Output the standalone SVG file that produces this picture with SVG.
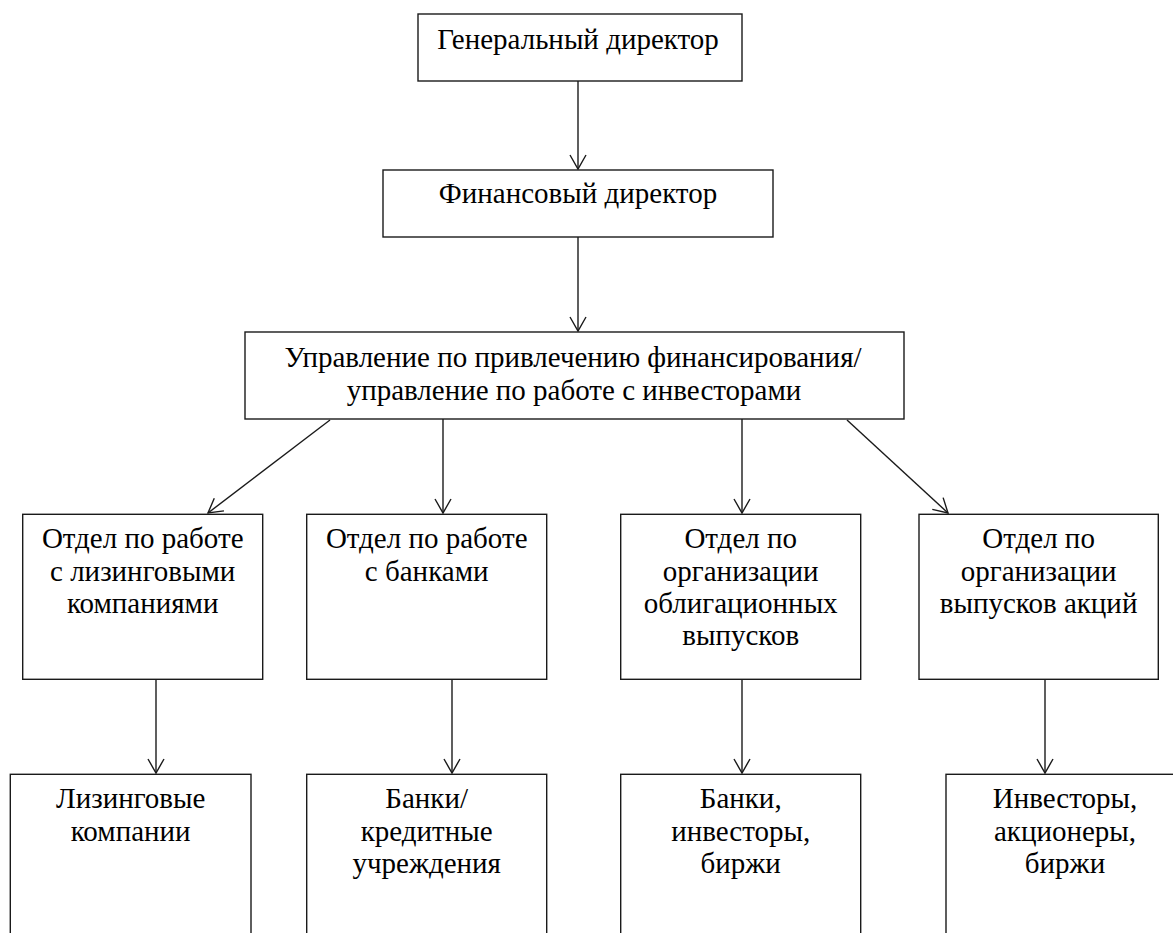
<svg xmlns="http://www.w3.org/2000/svg" width="1173" height="933" viewBox="0 0 1173 933">
<style>
.box{fill:#fff;stroke:#1a1a1a;stroke-width:1.4}
.lbl{font-family:"Liberation Serif","Times New Roman",serif;font-size:29px;fill:#000;text-anchor:middle}
.con{fill:none;stroke:#1a1a1a;stroke-width:1.4;marker-end:url(#arr)}
</style>
<defs>
<marker id="arr" markerUnits="userSpaceOnUse" markerWidth="20" markerHeight="20" viewBox="0 0 20 20" refX="15" refY="9" orient="auto" overflow="visible">
<path d="M1,1 L15,9 L1,17" fill="none" stroke="#1a1a1a" stroke-width="1.4"/>
</marker>
</defs>
<rect width="1173" height="933" fill="#fff"/>
<g id="connectors">
<line class="con" x1="578" y1="81" x2="578" y2="169"/>
<line class="con" x1="578" y1="237" x2="578" y2="331"/>
<line class="con" x1="330" y1="420" x2="208" y2="513"/>
<line class="con" x1="443" y1="419" x2="443" y2="513"/>
<line class="con" x1="742" y1="419" x2="742" y2="513"/>
<line class="con" x1="847" y1="420" x2="948" y2="513"/>
<line class="con" x1="156" y1="679" x2="156" y2="773"/>
<line class="con" x1="452" y1="679" x2="452" y2="773"/>
<line class="con" x1="742" y1="679" x2="742" y2="773"/>
<line class="con" x1="1045" y1="679" x2="1045" y2="773"/>
</g>
<g id="n-gen">
<rect class="box" x="418" y="14" width="324" height="67"/>
<text class="lbl" x="578" y="49">Генеральный директор</text>
</g>
<g id="n-fin">
<rect class="box" x="383" y="170" width="390" height="67"/>
<text class="lbl" x="578" y="203">Финансовый директор</text>
</g>
<g id="n-upr">
<rect class="box" x="245" y="332" width="659" height="87"/>
<text class="lbl" x="573" y="367">Управление по привлечению финансирования/</text>
<text class="lbl" x="574" y="400">управление по работе с инвесторами</text>
</g>
<g id="n-lease">
<rect class="box" x="22.7" y="514.3" width="240" height="165"/>
<text class="lbl" x="142.7" y="548">Отдел по работе</text>
<text class="lbl" x="142.7" y="581">с лизинговыми</text>
<text class="lbl" x="142.7" y="613">компаниями</text>
</g>
<g id="n-banks">
<rect class="box" x="306.7" y="514.3" width="240" height="165"/>
<text class="lbl" x="426.7" y="548">Отдел по работе</text>
<text class="lbl" x="426.7" y="581">с банками</text>
</g>
<g id="n-bonds">
<rect class="box" x="620.7" y="514.3" width="240" height="165"/>
<text class="lbl" x="740.7" y="548">Отдел по</text>
<text class="lbl" x="740.7" y="581">организации</text>
<text class="lbl" x="740.7" y="613">облигационных</text>
<text class="lbl" x="740.7" y="645">выпусков</text>
</g>
<g id="n-shares">
<rect class="box" x="919" y="514.3" width="239.3" height="165"/>
<text class="lbl" x="1038.6" y="548">Отдел по</text>
<text class="lbl" x="1038.6" y="581">организации</text>
<text class="lbl" x="1038.6" y="613">выпусков акций</text>
</g>
<g id="n-lc">
<rect class="box" x="10.3" y="774.3" width="240.7" height="170"/>
<text class="lbl" x="130.7" y="808">Лизинговые</text>
<text class="lbl" x="130.7" y="841">компании</text>
</g>
<g id="n-ci">
<rect class="box" x="306.7" y="774.3" width="240" height="170"/>
<text class="lbl" x="426.7" y="808">Банки/</text>
<text class="lbl" x="426.7" y="841">кредитные</text>
<text class="lbl" x="426.7" y="873">учреждения</text>
</g>
<g id="n-bie">
<rect class="box" x="620.7" y="774.3" width="240" height="170"/>
<text class="lbl" x="740.7" y="808">Банки,</text>
<text class="lbl" x="740.7" y="841">инвесторы,</text>
<text class="lbl" x="740.7" y="873">биржи</text>
</g>
<g id="n-ise">
<rect class="box" x="946" y="774.3" width="240" height="170"/>
<text class="lbl" x="1065" y="808">Инвесторы,</text>
<text class="lbl" x="1065" y="841">акционеры,</text>
<text class="lbl" x="1065" y="873">биржи</text>
</g>
</svg>
